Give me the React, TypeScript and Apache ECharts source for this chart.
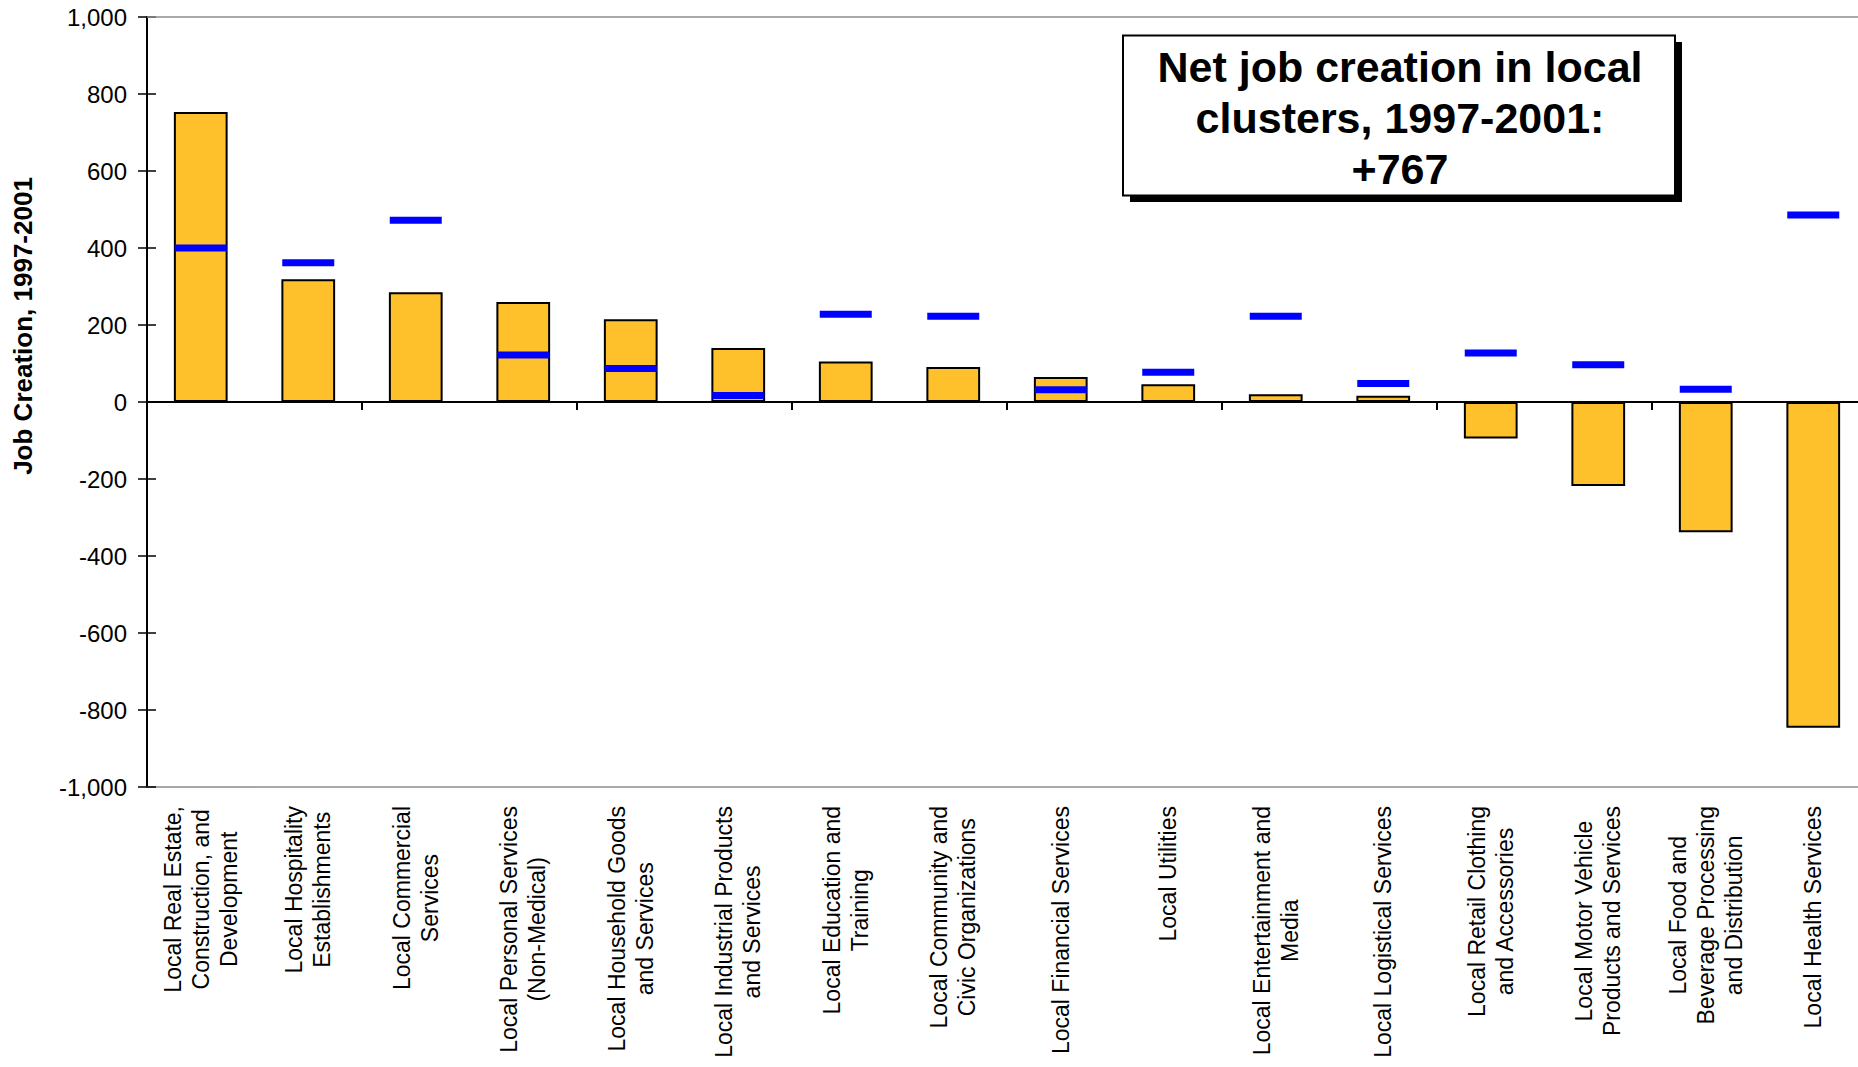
import React, { useEffect, useRef } from "react";
import * as echarts from "echarts";

const categories: string[] = [
  "Local Real Estate,\nConstruction, and\nDevelopment",
  "Local Hospitality\nEstablishments",
  "Local Commercial\nServices",
  "Local Personal Services\n(Non-Medical)",
  "Local Household Goods\nand Services",
  "Local Industrial Products\nand Services",
  "Local Education and\nTraining",
  "Local Community and\nCivic Organizations",
  "Local Financial Services",
  "Local Utilities",
  "Local Entertainment and\nMedia",
  "Local Logistical Services",
  "Local Retail Clothing\nand Accessories",
  "Local Motor Vehicle\nProducts and Services",
  "Local Food and\nBeverage Processing\nand Distribution",
  "Local Health Services",
];

const jobCreation: number[] = [753, 319, 285, 260, 215, 140, 105, 91, 65, 46, 20, 16, -95, -218, -338, -846];
const expected: number[] = [400, 362, 472, 122, 87, 17, 228, 223, 32, 77, 223, 48, 127, 97, 33, 486];

const yMin = -1000;
const yMax = 1000;
const yInterval = 200;

const yAxisTitle = "Job Creation, 1997-2001";
const boxText = "Net job creation in local\nclusters, 1997-2001:\n+767";

const FONT = "'Liberation Sans', Arial, Helvetica, sans-serif";

export default function App() {
  const ref = useRef<HTMLDivElement>(null);

  useEffect(() => {
    if (!ref.current) return;
    const chart = echarts.init(ref.current, null, { renderer: "svg" });
    const option: any = {
      animation: false,
      backgroundColor: "#ffffff",
      textStyle: { fontFamily: FONT },
      grid: {
        left: 147,
        top: 17,
        right: -9,
        bottom: 280,
        containLabel: false,
        outerBoundsMode: "none",
      },
      xAxis: [
        {
          type: "category",
          data: categories,
          position: "bottom",
          axisLine: { show: true, onZero: false, lineStyle: { color: "#8c8c8c", width: 1.5 } },
          axisTick: { show: false },
          splitLine: { show: false },
          axisLabel: {
            interval: 0,
            rotate: 90,
            margin: 19,
            color: "#000",
            fontFamily: FONT,
            fontSize: 23,
            lineHeight: 28,
            formatter: (v: string) =>
              v
                .split("\n")
                .map((l) => `{c|${l}}`)
                .join("\n"),
            rich: {
              c: { align: "center", fontSize: 23, lineHeight: 28, fontFamily: FONT, color: "#000" },
            },
          },
        },
        {
          type: "category",
          data: categories,
          position: "top",
          axisLine: { show: true, onZero: true, lineStyle: { color: "#000", width: 2 } },
          axisTick: { show: true, inside: true, length: 8, lineStyle: { color: "#000", width: 2 } },
          axisLabel: { show: false },
          splitLine: { show: false },
        },
      ],
      yAxis: [
        {
          type: "value",
          min: yMin,
          max: yMax,
          interval: yInterval,
          position: "left",
          axisLine: { show: true, lineStyle: { color: "#000", width: 2 } },
          axisTick: { show: true, inside: false, length: 9, lineStyle: { color: "#000", width: 1.5 } },
          splitLine: { show: false },
          axisLabel: {
            margin: 20,
            color: "#000",
            fontFamily: FONT,
            fontSize: 24,
            formatter: (v: number) => v.toLocaleString("en-US"),
          },
        },
        {
          type: "value",
          min: yMin,
          max: yMax,
          interval: yInterval,
          position: "left",
          axisLine: { show: false },
          axisTick: { show: true, inside: true, length: 9, lineStyle: { color: "#000", width: 1.5 } },
          splitLine: { show: false },
          axisLabel: { show: false },
        },
      ],
      series: [
        {
          type: "bar",
          xAxisIndex: 0,
          yAxisIndex: 0,
          data: jobCreation,
          barWidth: "50%",
          itemStyle: { color: "#FFC12B", borderColor: "#000", borderWidth: 2 },
          markLine: {
            silent: true,
            symbol: "none",
            label: { show: false },
            lineStyle: { color: "#8c8c8c", width: 1.5, type: "solid" },
            data: [{ yAxis: yMax }],
          },
          z: 2,
        },
        {
          type: "scatter",
          xAxisIndex: 0,
          yAxisIndex: 0,
          data: expected,
          symbol: "rect",
          symbolSize: [52, 7],
          itemStyle: { color: "#0000FF", opacity: 1 },
          z: 4,
        },
      ],
      graphic: [
        {
          type: "text",
          x: 23,
          y: 326,
          rotation: Math.PI / 2,
          style: {
            text: yAxisTitle,
            font: `bold 26px ${FONT}`,
            fill: "#000",
            textAlign: "center",
            textVerticalAlign: "middle",
          },
        },
        {
          type: "rect",
          shape: { x: 1130, y: 42, width: 552, height: 160 },
          style: { fill: "#000" },
          z: 10,
        },
        {
          type: "rect",
          shape: { x: 1123, y: 35.5, width: 552, height: 160 },
          style: { fill: "#fff", stroke: "#000", lineWidth: 2 },
          z: 11,
        },
        {
          type: "text",
          x: 1400,
          y: 118,
          style: {
            text: boxText,
            font: `bold 43px ${FONT}`,
            lineHeight: 51,
            fill: "#000",
            textAlign: "center",
            textVerticalAlign: "middle",
          },
          z: 12,
        },
      ],
    };
    chart.setOption(option);
    return () => chart.dispose();
  }, []);

  return (
    <div
      ref={ref}
      style={{ position: "absolute", left: 0, top: 0, width: 1858, height: 1067 }}
    />
  );
}
